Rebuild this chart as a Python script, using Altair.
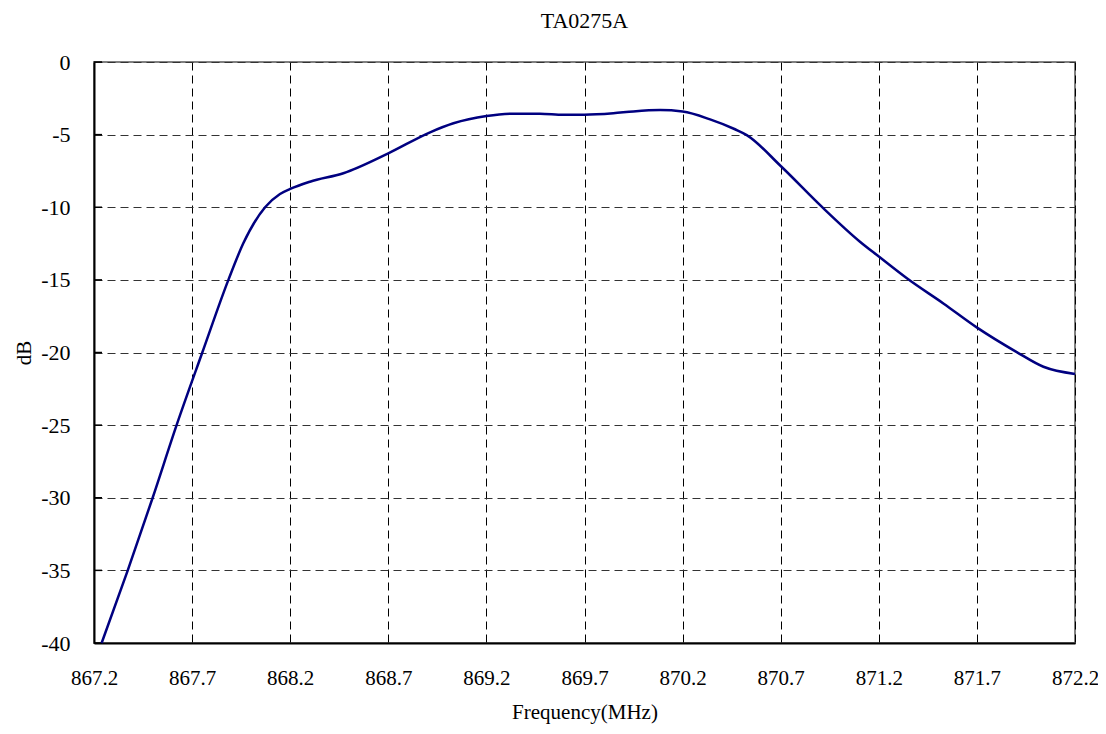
import altair as alt
import pandas as pd

freq = [867.239, 867.372, 867.499, 867.621, 867.752, 867.885, 867.961, 868.072,
        868.148, 868.2, 868.301, 868.471, 868.7, 868.913, 869.032, 869.201,
        869.337, 869.473, 869.592, 869.699, 869.847, 869.949, 870.085, 870.2,
        870.34, 870.467, 870.527, 870.7, 870.909, 871.104, 871.197, 871.35,
        871.529, 871.699, 871.903, 872.039, 872.2]
db = [-40.0, -35.0, -30.0, -25.0, -20.0, -15.0, -12.48, -10.0,
      -9.09, -8.74, -8.24, -7.66, -6.29, -4.84, -4.22, -3.72,
      -3.56, -3.56, -3.63, -3.63, -3.53, -3.40, -3.31, -3.41,
      -3.95, -4.63, -5.03, -7.16, -9.96, -12.37, -13.36, -14.96,
      -16.62, -18.27, -19.97, -20.98, -21.48]

x_ticks = [867.2, 867.7, 868.2, 868.7, 869.2, 869.7, 870.2, 870.7, 871.2, 871.7, 872.2]
y_ticks = [0, -5, -10, -15, -20, -25, -30, -35, -40]

df = pd.DataFrame({"freq": freq, "db": db})
ticks_df = pd.DataFrame({"y": y_ticks})

FONT = "Liberation Serif"

xscale = alt.Scale(domain=[867.2, 872.2], nice=False, zero=False)
yscale = alt.Scale(domain=[-40, 0], nice=False, zero=False)

line = alt.Chart(df).mark_line(color="#000080", strokeWidth=2.5, interpolate="monotone").encode(
    x=alt.X("freq:Q", scale=xscale,
            axis=alt.Axis(values=x_ticks, title="Frequency(MHz)", format=".1f",
                          grid=True, gridColor="#000000", gridDash=[8, 5], gridWidth=1,
                          ticks=False, domainColor="#000000", domainWidth=2,
                          labelFont=FONT, labelFontSize=21, labelColor="#000000",
                          labelPadding=24, labelFlush=False,
                          titleFont=FONT, titleFontSize=21, titleFontWeight="normal",
                          titleColor="#000000", titlePadding=13)),
    y=alt.Y("db:Q", scale=yscale,
            axis=alt.Axis(values=y_ticks, title="dB", labelExpr="toString(datum.value)",
                          grid=True, gridColor="#333333", gridDash=[8, 5], gridWidth=1,
                          ticks=False, domainColor="#000000", domainWidth=2,
                          labelFont=FONT, labelFontSize=22, labelColor="#000000",
                          labelPadding=24, labelFlush=False,
                          titleFont=FONT, titleFontSize=21, titleFontWeight="normal",
                          titleColor="#000000", titlePadding=6)),
)

inner_ticks = alt.Chart(ticks_df).mark_rule(color="#000000", strokeWidth=1.5).encode(
    y=alt.Y("y:Q", scale=yscale),
    x=alt.value(0),
    x2=alt.value(8),
)

chart = alt.layer(inner_ticks, line).properties(
    width=981,
    height=581,
    autosize=alt.AutoSizeParams(type="none"),
    padding={"left": 86, "top": 54, "right": 23, "bottom": 83},
    title=alt.TitleParams("TA0275A", font=FONT, fontSize=22, fontWeight="normal",
                          color="#000000", offset=18, anchor="middle"),
).configure(background="white", font=FONT).configure_view(
    stroke="#808080", strokeWidth=2
).configure_axis(labelFont=FONT, titleFont=FONT)

chart.save("out.html", embed_options={"renderer": "svg", "actions": False})
